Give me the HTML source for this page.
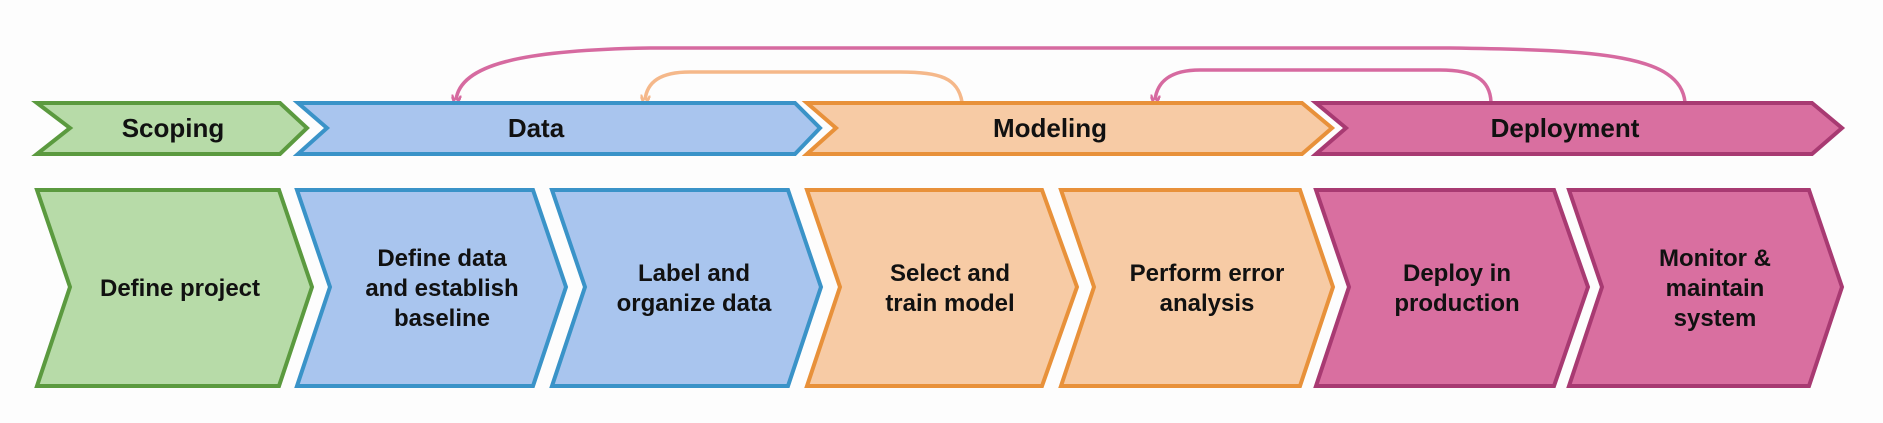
<!DOCTYPE html>
<html><head><meta charset="utf-8"><style>
html,body{margin:0;padding:0;background:#fdfdfd;}
svg{display:block}
text{font-family:"Liberation Sans",Arial,sans-serif;font-weight:bold;fill:#111;text-anchor:middle}
.h{font-size:26px}
.b{font-size:24px}
</style></head><body>
<svg width="1883" height="423" viewBox="0 0 1883 423" xmlns="http://www.w3.org/2000/svg">
<defs>
<marker id="ap" markerWidth="10" markerHeight="10" refX="5" refY="5" orient="auto" markerUnits="userSpaceOnUse"><path d="M0,0 L10,5 L0,10" fill="none" stroke="#d66aa0" stroke-width="3"/></marker>
<marker id="ao" markerWidth="10" markerHeight="10" refX="5" refY="5" orient="auto" markerUnits="userSpaceOnUse"><path d="M0,0 L10,5 L0,10" fill="none" stroke="#f5b88a" stroke-width="3"/></marker>
</defs>
<!-- arcs -->
<path d="M1685,102 C1680,55 1600,50 1450,48 L650,48 C520,50 460,65 456,100" fill="none" stroke="#d66aa0" stroke-width="3.5" marker-end="url(#ap)"/>
<path d="M962,102 C958,78 940,72 900,72 L690,72 C660,72 647,82 645,100" fill="none" stroke="#f5b88a" stroke-width="3.5" marker-end="url(#ao)"/>
<path d="M1491,102 C1490,80 1475,70 1440,70 L1200,70 C1170,70 1157,82 1155,100" fill="none" stroke="#d66aa0" stroke-width="3.5" marker-end="url(#ap)"/>
<!-- top chevrons -->
<g stroke-width="4" stroke-linejoin="miter">
<polygon points="37,103 280,103 307,128 280,154 37,154 70,128" fill="#b7dba8" stroke="#5b9a3f"/>
<polygon points="298,103 795,103 820,128 795,154 298,154 327,128" fill="#a9c5ee" stroke="#3a93c8"/>
<polygon points="807,103 1302,103 1332,128 1302,154 807,154 836,128" fill="#f7cba5" stroke="#e8913a"/>
<polygon points="1316,103 1812,103 1842,128 1812,154 1316,154 1346,128" fill="#d96fa0" stroke="#a83a72"/>
</g>
<text class="h" x="173" y="137">Scoping</text>
<text class="h" x="536" y="137">Data</text>
<text class="h" x="1050" y="137">Modeling</text>
<text class="h" x="1565" y="137">Deployment</text>
<!-- bottom -->
<g stroke-width="4">
<polygon points="37,190 279,190 312,287 279,386 37,386 70,287" fill="#b7dba8" stroke="#5b9a3f"/>
<polygon points="297,190 533,190 566,287 533,386 297,386 330,287" fill="#a9c5ee" stroke="#3a93c8"/>
<polygon points="552,190 788,190 821,287 788,386 552,386 585,287" fill="#a9c5ee" stroke="#3a93c8"/>
<polygon points="807,190 1042,190 1077,287 1042,386 807,386 840,287" fill="#f7cba5" stroke="#e8913a"/>
<polygon points="1061,190 1300,190 1333,287 1300,386 1061,386 1094,287" fill="#f7cba5" stroke="#e8913a"/>
<polygon points="1316,190 1554,190 1588,287 1554,386 1316,386 1349,287" fill="#d96fa0" stroke="#a83a72"/>
<polygon points="1569,190 1809,190 1842,287 1809,386 1569,386 1602,287" fill="#d96fa0" stroke="#a83a72"/>
</g>
<text class="b" x="180" y="296">Define project</text>
<text class="b" x="442" y="266">Define data</text>
<text class="b" x="442" y="296">and establish</text>
<text class="b" x="442" y="326">baseline</text>
<text class="b" x="694" y="281">Label and</text>
<text class="b" x="694" y="311">organize data</text>
<text class="b" x="950" y="281">Select and</text>
<text class="b" x="950" y="311">train model</text>
<text class="b" x="1207" y="281">Perform error</text>
<text class="b" x="1207" y="311">analysis</text>
<text class="b" x="1457" y="281">Deploy in</text>
<text class="b" x="1457" y="311">production</text>
<text class="b" x="1715" y="266">Monitor &amp;</text>
<text class="b" x="1715" y="296">maintain</text>
<text class="b" x="1715" y="326">system</text>
</svg>
</body></html>
